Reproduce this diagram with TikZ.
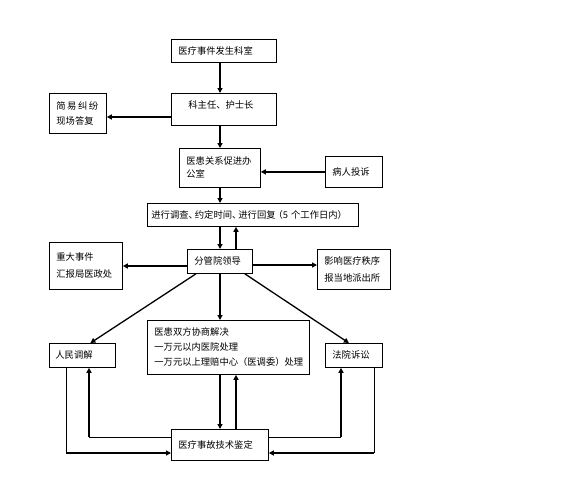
\documentclass[tikz,border=0pt]{standalone}
\usepackage{fontspec}
\setmainfont{Noto Sans CJK SC}
\usetikzlibrary{arrows.meta}
\begin{document}
\begin{tikzpicture}[x=1pt, y=-1pt]
        \tikzstyle{box}=[draw, line width=0.8pt, anchor=north west, inner xsep=7pt, inner ysep=0pt, align=left, font=\fontsize{9.3}{15}\selectfont];
        \tikzstyle{arr}=[line width=1.6pt, -{Triangle[length=5pt,width=5pt]}];
        \tikzstyle{thinline}=[line width=0.8pt];

        \useasboundingbox (0,0) rectangle (576,499);

        \node[box, text width=91pt, minimum height=23pt] (occur) at (171,39) {医疗事件发生科室};
        \node[box, inner xsep=17pt, text width=71pt, minimum height=32pt, text depth=10pt] (chief) at (171,93) {科主任、护士长};
        \node[box, text width=43pt, minimum height=40pt] (simple) at (49,93) {简\,易\,纠\,纷\\现场答复};
        \node[box, text width=67pt, minimum height=39pt] (office) at (179,148) {医患关系促进办\\[-2pt]公室};
        \node[box, text width=43pt, minimum height=31pt] (complain) at (325,156) {病人投诉};
        \node[box, inner xsep=4pt, text width=203pt, minimum height=23pt] (survey) at (147,203) {进行调查、\hspace{-3pt}约定时间、\hspace{-3pt}进行回复\hspace{-2pt}（5 个工作日内）};
        \node[box, text width=51pt, minimum height=24pt] (leader) at (187,249) {分管院领导};
        \node[box, text width=59pt, minimum height=47pt] (major) at (49,242) {重大事件\\[2pt]汇报局医政处};
        \node[box, text width=59pt, minimum height=40pt] (order) at (317,249) {影响医疗秩序\\[2pt]报当地派出所};
        \node[box, inner xsep=6pt, text width=54pt, minimum height=24pt] (mediate) at (49,343) {人民调解};
        \node[box, text width=148pt, minimum height=54pt] (consult) at (147,320) {医患双方协商解决\\一万元以内医院处理\\一万元以上理赔中心（医调委）处理};
        \node[box, text width=43pt, minimum height=24pt] (court) at (325,343) {法院诉讼};
        \node[box, text width=83pt, minimum height=31pt] (appraise) at (171,429) {医疗事故技术鉴定};

        % guide lines
        \coordinate (spine) at (220,0);
        \coordinate (spineb) at (236,0);
        \coordinate (ysimple) at (0,117);
        \coordinate (ymajor) at (0,266);
        \coordinate (yorder) at (0,265);
        \coordinate (loopup) at (0,437);
        \coordinate (loopdn) at (0,453);
        \coordinate (medup) at (89,0);
        \coordinate (meddn) at (66,0);
        \coordinate (courtup) at (341,0);
        \coordinate (courtdn) at (374,0);

        \draw[arr] (occur.south -| spine) -- (chief.north -| spine);
        \draw[arr] (chief.west |- ysimple) -- (simple.east |- ysimple);
        \draw[arr] (chief.south -| spine) -- (office.north -| spine);
        \draw[arr] (complain.west) -- (office.east |- complain.west);
        \draw[arr] (office.south -| spine) -- (survey.north -| spine);
        \draw[arr] (survey.south -| spine) -- (leader.north -| spine);
        \draw[arr] (leader.north -| spineb) -- (survey.south -| spineb);
        \draw[arr] (leader.west |- ymajor) -- (major.east |- ymajor);
        \draw[arr] (leader.east |- yorder) -- (order.west |- yorder);
        \draw[arr] (leader.south -| spine) -- (consult.north -| spine);
        \draw[arr, line width=1.3pt] ([xshift=9pt]leader.south west) -- ([xshift=8pt]mediate.north);
        \draw[arr, line width=1.3pt] ([xshift=-8pt]leader.south east) -- ([xshift=-5pt]court.north);
        \draw[arr] (consult.south -| spine) -- (appraise.north -| spine);
        \draw[arr] (appraise.north -| spineb) -- (consult.south -| spineb);

        % appraisal loops
        \draw[thinline] (appraise.west |- loopup) -- (medup |- loopup);
        \draw[arr] (medup |- loopup) -- (mediate.south -| medup);
        \draw[thinline] (mediate.south -| meddn) -- (meddn |- loopdn);
        \draw[arr] (meddn |- loopdn) -- (appraise.west |- loopdn);
        \draw[thinline] (appraise.east |- loopup) -- (courtup |- loopup);
        \draw[arr] (courtup |- loopup) -- (court.south -| courtup);
        \draw[thinline] (court.south -| courtdn) -- (courtdn |- loopdn);
        \draw[arr] (courtdn |- loopdn) -- (appraise.east |- loopdn);
    \end{tikzpicture}
\end{document}
